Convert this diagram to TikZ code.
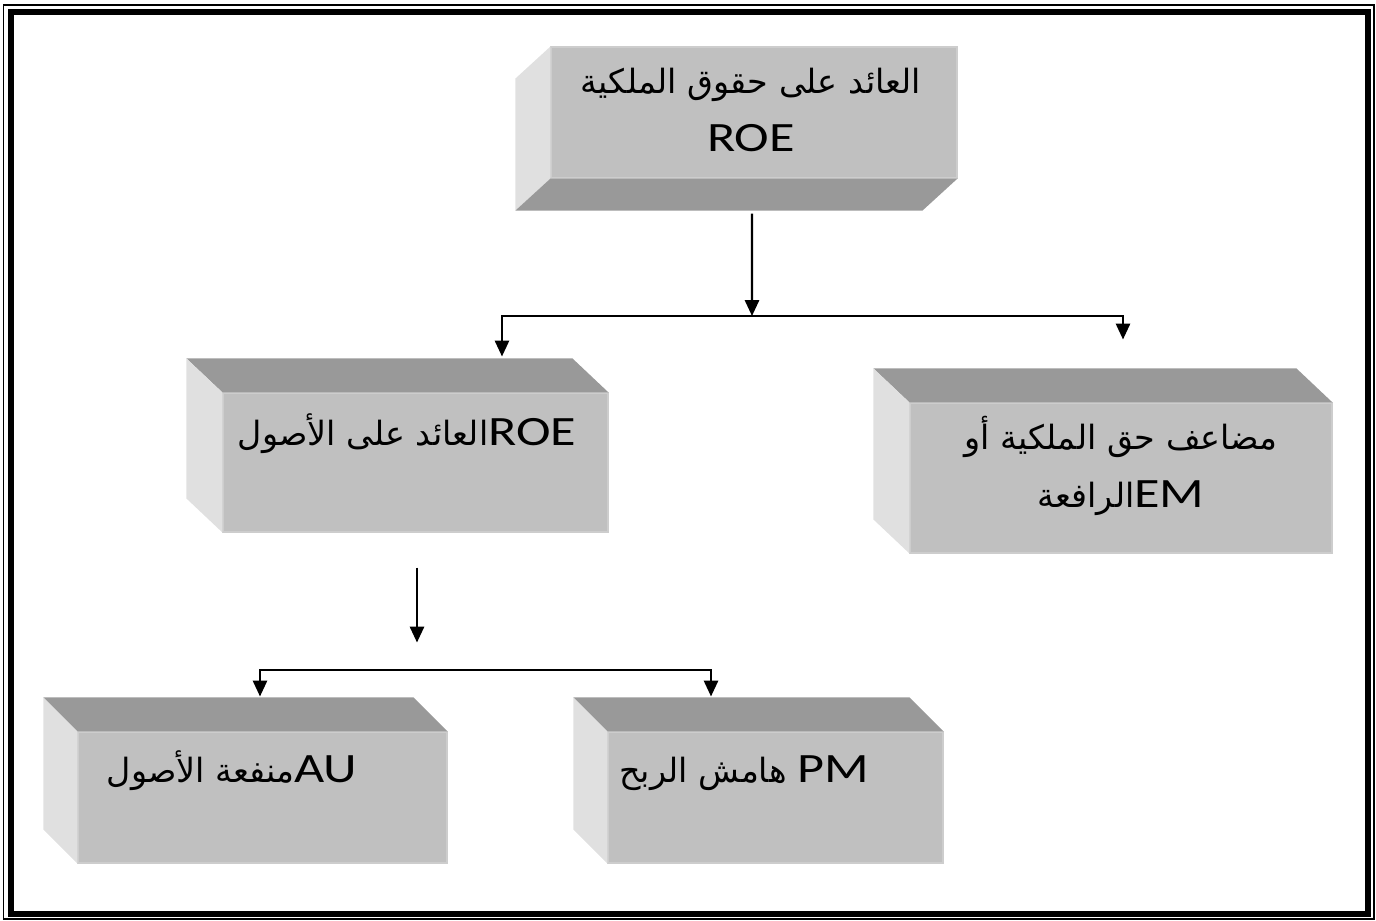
\documentclass[tikz,border=0pt]{standalone}
\usepackage{fontspec}
\setmainfont{Carlito}[Scale=1.25, FakeStretch=1.25]
\newfontfamily\arfont[Script=Arabic]{DejaVu Sans}
\TeXXeTstate=1
\usetikzlibrary{arrows.meta,fit}
\definecolor{facegray}{HTML}{C0C0C0}
\definecolor{sidedark}{HTML}{999999}
\definecolor{sidelight}{HTML}{E0E0E0}
\tikzset{
  face/.style={fill=facegray, draw=facegray!80!white, line width=0.6pt, inner sep=0pt},
  darkside/.style={fill=sidedark},
  lightside/.style={fill=sidelight},
  txt/.style={font=\fontsize{19}{33}\selectfont, align=center, inner sep=0pt},
  arr/.style={-{Triangle[width=8pt,length=9pt]}, line width=1.35pt},
}
\begin{document}
\begin{tikzpicture}[x=0.02cm, y=-0.02cm]
	\useasboundingbox (0,0) rectangle (1376,920);
	% frame
	\draw[line width=0.85pt] (3.5,5) rectangle (1374,919);
	\draw[line width=3.4pt] (11,12) rectangle (1368,914);

	% top box, drawn with its depth to the lower left
	\node[face, fit={(551,47) (957,178)}] (roe) {};
	\fill[lightside] (roe.north west) -- ++(-35,32) -- ([shift={(-0.7cm,-0.64cm)}]roe.south west) -- (roe.south west) -- cycle;
	\fill[darkside] (roe.south west) -- ++(-35,32) -- ([shift={(-0.7cm,-0.64cm)}]roe.south east) -- (roe.south east) -- cycle;
	\node[txt] (roe-t) at (751,110) {{\arfont\beginR العائد على حقوق الملكية\endR}\\ROE};

	% second row
	\node[face, fit={(223,393) (608,532)}] (roa) {};
	\node[face, fit={(910,403) (1332,553)}] (em) {};
	\foreach \n in {roa,em}{
		\fill[darkside] (\n.north west) -- ++(-36,-34) -- ([shift={(-0.72cm,0.68cm)}]\n.north east) -- (\n.north east) -- cycle;
		\fill[lightside] (\n.north west) -- ++(-36,-34) -- ([shift={(-0.72cm,0.68cm)}]\n.south west) -- (\n.south west) -- cycle;
	}
	\node[txt, anchor=base] (roa-t) at (407,445) {\arfont\beginR\beginL{\normalfont ROE}\endL{}العائد على الأصول\endR};
	\node[txt] (em-t) at (1121,466) {{\arfont\beginR مضاعف حق الملكية أو\endR}\\{\arfont\beginR\beginL{\normalfont EM}\endL{}الرافعة\endR}};

	% third row
	\node[face, fit={(78,732) (447,863)}] (au) {};
	\node[face, fit={(608,732) (943,863)}] (pm) {};
	\foreach \n in {au,pm}{
		\fill[darkside] (\n.north west) -- ++(-34,-34) -- ([shift={(-0.68cm,0.68cm)}]\n.north east) -- (\n.north east) -- cycle;
		\fill[lightside] (\n.north west) -- ++(-34,-34) -- ([shift={(-0.68cm,0.68cm)}]\n.south west) -- (\n.south west) -- cycle;
	}
	\node[txt, anchor=base] (au-t) at (232,782) {\arfont\beginR\beginL{\normalfont AU}\endL{}منفعة الأصول\endR};
	\node[txt, anchor=base] (pm-t) at (744,782) {\arfont\beginR\beginL{\normalfont PM}\endL{} هامش الربح\endR};

	% arrows
	\coordinate (hub) at (752,316);
	\draw[arr] ([shift={(-0.04cm,-0.7cm)}]roe.south) -- (hub);
	\draw[arr] (hub) -| ([shift={(1.73cm,0.72cm)}]roa.north);
	\draw[arr] (hub) -| ([shift={(0.04cm,1.26cm)}]em.north);
	\draw[arr] ([shift={(0.03cm,-0.7cm)}]roa.south) -- ++(0,75);
	\coordinate (bar) at (485,670);
	\draw[arr] (bar) -| ([shift={(-0.05cm,0.7cm)}]au.north);
	\draw[arr] (bar) -| ([shift={(-1.29cm,0.7cm)}]pm.north);
\end{tikzpicture}
\end{document}
